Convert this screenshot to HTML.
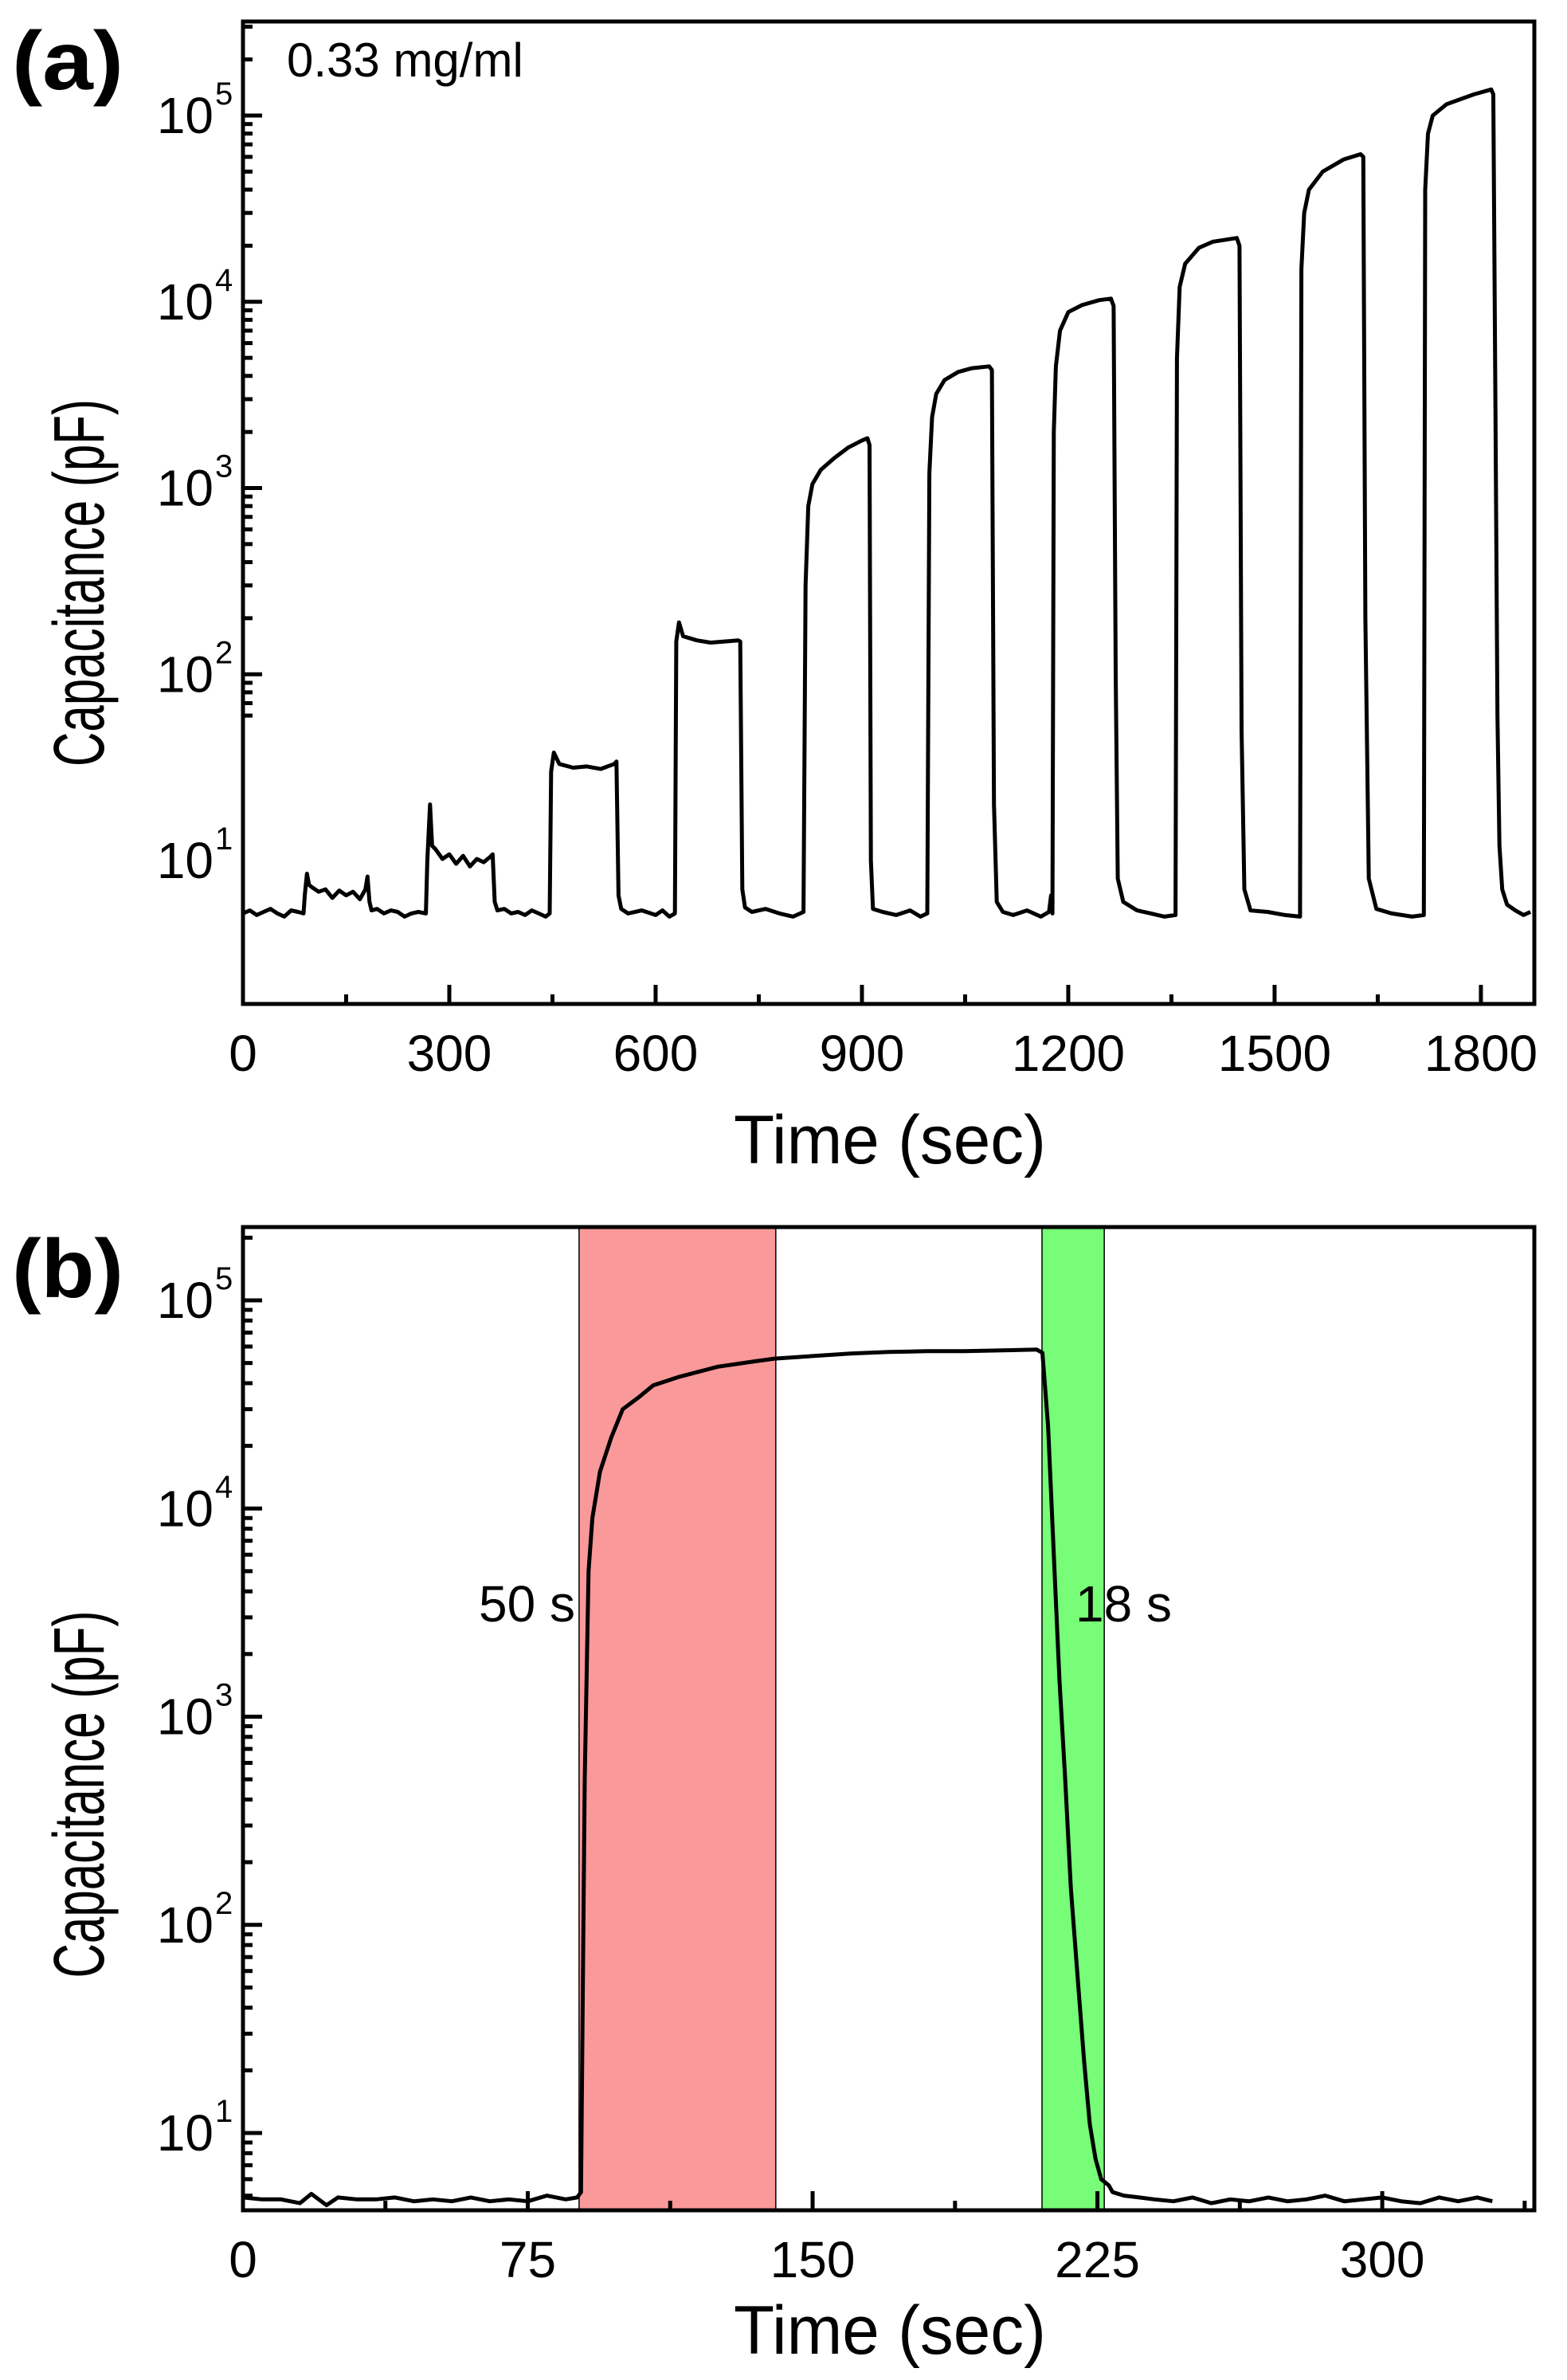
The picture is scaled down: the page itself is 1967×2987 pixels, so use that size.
<!DOCTYPE html>
<html><head><meta charset="utf-8"><style>
html,body{margin:0;padding:0;background:#fff;}
svg{display:block;font-family:"Liberation Sans",Arial,sans-serif;}
</style></head><body>
<svg id="fig" width="1967" height="2987" viewBox="0 0 1967 2987" xmlns="http://www.w3.org/2000/svg"></svg>
<script>
// ---------- Panel (a) data ----------
const timesA = [0,10,20,30,40,50,60,70,80,88,
 90,93,96,100,110,120,130,140,150,160,170,178,181,184,187,195,205,215,225,235,245,255,266,
 268,272,275,280,290,300,310,320,330,340,350,360,363,366,370,380,390,400,410,420,430,440,446,
 448,452,460,480,500,520,540,543,546,550,560,580,600,610,620,628,
 630,634,640,660,680,700,720,723,726,730,740,760,780,800,815,
 818,822,828,840,860,880,900,908,911,913,916,930,950,970,985,995,
 998,1002,1008,1020,1040,1060,1085,1089,1092,1096,1105,1120,1140,1160,1172,1175,1177,
 1179,1182,1188,1200,1220,1245,1262,1266,1269,1272,1280,1300,1320,1340,1356,
 1358,1362,1370,1390,1410,1445,1449,1452,1456,1465,1490,1515,1537,
 1539,1543,1550,1570,1600,1625,1629,1632,1637,1648,1670,1700,1717,
 1719,1723,1730,1750,1790,1815,1818,1821,1824,1827,1831,1838,1850,1862,1872];
const valuesA = [5.2,5.4,5.1,5.3,5.5,5.2,5.0,5.4,5.3,5.2,
 6.6,8.5,7.4,7.2,6.8,7.0,6.3,6.9,6.5,6.8,6.2,7.0,8.2,6.0,5.4,5.5,5.2,5.4,5.3,5.0,5.2,5.3,5.2,
 10,20,12,11.5,10.2,10.8,9.6,10.6,9.3,10.2,9.8,10.5,10.8,6.0,5.4,5.5,5.2,5.3,5.1,5.4,5.2,5.0,5.2,
 30,38,33,31.5,32,31,33,34,6.5,5.5,5.2,5.4,5.1,5.4,5.0,5.2,
 150,190,160,152,148,150,152,150,7,5.6,5.3,5.5,5.2,5.0,5.3,
 300,800,1050,1250,1450,1650,1800,1850,1700,10,5.5,5.3,5.1,5.4,5.0,5.2,
 1200,2400,3200,3800,4200,4400,4500,4300,20,6,5.3,5.1,5.4,5.0,5.3,6.5,5.2,
 2000,4500,7000,8800,9600,10200,10400,9500,100,8,6,5.4,5.2,5.0,5.1,
 5000,12000,16000,19500,21000,22000,20000,50,7,5.4,5.3,5.1,5.0,
 15000,30000,40000,50000,58000,62000,60000,200,8,5.5,5.2,5.0,5.1,
 40000,80000,100000,115000,130000,138000,130000,3000,60,12,7,5.8,5.4,5.1,5.3];
const xTicksA = [0,300,600,900,1200,1500,1800];
const xMinorA = [150,450,750,1050,1350,1650];
const yDecades = [1,2,3,4,5];

// ---------- Panel (b) data ----------
const timesB = [0,5,10,15,18,22,25,30,35,40,45,50,55,60,65,70,75,80,85,88,89,
 90,91,92,94,97,100,104,108,115,125,135,140,150,160,170,180,190,200,209,
 210.5,212,213.5,215,216.5,218,220,221.5,223,224.5,226,228,229,232,236,240,245,250,255,260,265,270,275,280,285,290,295,300,305,310,315,320,325,329];
const valuesB = [4.9,4.8,4.8,4.6,5.1,4.5,4.9,4.8,4.8,4.9,4.7,4.8,4.7,4.9,4.7,4.8,4.7,5.0,4.8,4.9,5.2,
 500,5000,9000,15000,22000,30000,34000,39000,43000,48000,51000,52500,54000,55500,56500,57000,57000,57500,58000,
 56000,25000,6000,1500,500,150,50,22,11,7.5,6.0,5.6,5.2,5.0,4.9,4.8,4.7,4.9,4.6,4.8,4.7,4.9,4.7,4.8,5.0,4.7,4.8,4.9,4.7,4.6,4.9,4.7,4.9,4.7];
const xTicksB = [0,75,150,225,300];
const xMinorB = [37.5,112.5,187.5,262.5,337.5];
const shadeRise = [88.5,140.3];
const shadeFall = [210.4,226.8];

const NS = "http://www.w3.org/2000/svg";
const svg = document.getElementById('fig');
function el(tag, attrs, parent){
  const e = document.createElementNS(NS, tag);
  for (const k in attrs) e.setAttribute(k, attrs[k]);
  (parent||svg).appendChild(e);
  return e;
}

function panel(cfg){
  const g = el('g', {});
  
  
  const L=305, R=1926, T=cfg.top, B=cfg.bottom;
  const xs = v => L + v*cfg.pxPerSec;
  const ys = v => cfg.y1 - (Math.log10(v)-1)*cfg.decade;

  if (cfg.shades){
    cfg.shades.forEach(s=>{
      const r = el('rect', {x:xs(s.range[0]), y:T, width:xs(s.range[1])-xs(s.range[0]), height:B-T, fill:s.color, stroke:'#000', 'stroke-width':1.5}, g);
      
      
    });
  }
  let d='';
  cfg.times.forEach((t,i)=>{ d += (i?'L':'M') + xs(t).toFixed(1) + ',' + ys(cfg.values[i]).toFixed(1); });
  const p = el('path', {d:d, fill:'none', stroke:'#000', 'stroke-width':5, 'stroke-linejoin':'round'}, g);
  
  

  const lo = cfg.logMin, hi = cfg.logMax;
  for (let dec=0; dec<=6; dec++){
    for (let m=1; m<=9; m++){
      const lv = dec + Math.log10(m);
      if (lv < lo || lv > hi) continue;
      const y = ys(Math.pow(10, lv));
      const len = m===1 ? 24 : 12;
      el('line', {x1:L, x2:L+len, y1:y, y2:y, stroke:'#000', 'stroke-width':5}, g);
    }
  }
  yDecades.forEach(dv=>{
    const y = ys(Math.pow(10,dv));
    const t = el('text', {x:268, y:y+22, 'font-size':64, 'text-anchor':'end'}, g);
    
    
    t.textContent = '10';
    const s = el('text', {x:270, y:y-14, 'font-size':40}, g);
    
    
    s.textContent = String(dv);
  });
  cfg.xTicks.forEach(v=>{
    const x = xs(v);
    el('line', {x1:x, x2:x, y1:B, y2:B-24, stroke:'#000', 'stroke-width':5}, g);
    const t = el('text', {x:x, y:B+84, 'font-size':64, 'text-anchor':'middle'}, g);
    
    
    t.textContent = String(v);
  });
  cfg.xMinor.forEach(v=>{
    const x = xs(v);
    el('line', {x1:x, x2:x, y1:B, y2:B-12, stroke:'#000', 'stroke-width':5}, g);
  });
  const f = el('rect', {x:L, y:T, width:R-L, height:B-T, fill:'none', stroke:'#000', 'stroke-width':5}, g);
  
  

  const yt = el('text', {x:0, y:0, 'font-size':90, 'text-anchor':'middle', textLength:461, lengthAdjust:'spacingAndGlyphs', transform:`translate(130,${(T+B)/2+cfg.ylabOff}) rotate(-90)`}, g);
  
  
  yt.textContent = 'Capacitance (pF)';
  const xt = el('text', {x:1117, y:B+cfg.xtOff, 'font-size':86, 'text-anchor':'middle', textLength:392, lengthAdjust:'spacingAndGlyphs'}, g);
  
  
  xt.textContent = 'Time (sec)';
  const pl = el('text', {x:15, y:cfg.letterY, 'font-size':104, 'font-weight':'bold', textLength:140, lengthAdjust:'spacingAndGlyphs'}, g);
  
  
  pl.textContent = cfg.letter;
  return {g, xs, ys};
}

const A = panel({name:'panel-a', top:27, bottom:1260, pxPerSec:0.8633, y1:1080, decade:233.75,
  logMin:1.70, logMax:5.5, times:timesA, values:valuesA, xTicks:xTicksA, xMinor:xMinorA,
  ylabOff:88, xtOff:200, letter:'(a)', letterY:112});
const conc = el('text', {x:360, y:96, 'font-size':60}, A.g);


conc.textContent = '0.33 mg/ml';

const Bp = panel({name:'panel-b', top:1540, bottom:2774, pxPerSec:4.767, y1:2677, decade:261.25,
  logMin:0.63, logMax:5.35, times:timesB, values:valuesB, xTicks:xTicksB, xMinor:xMinorB,
  shades:[{range:shadeRise, color:'#fa9999', name:'rise-time-shade'},{range:shadeFall, color:'#77fd77', name:'fall-time-shade'}],
  ylabOff:95, xtOff:180, letter:'(b)', letterY:1628});
const r1 = el('text', {x:722, y:2035, 'font-size':64, 'text-anchor':'end'}, Bp.g);


r1.textContent = '50 s';
const r2 = el('text', {x:1350, y:2035, 'font-size':64}, Bp.g);


r2.textContent = '18 s';
</script>
</body></html>
